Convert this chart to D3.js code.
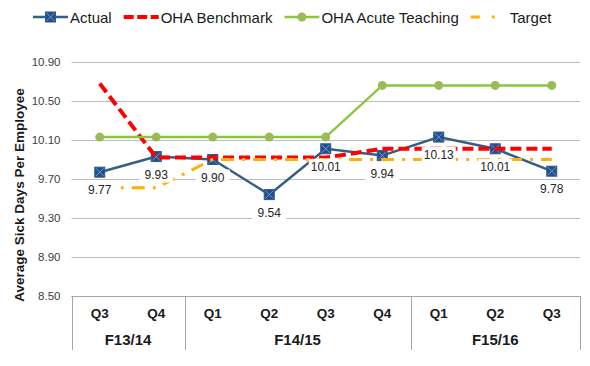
<!DOCTYPE html>
<html>
<head>
<meta charset="utf-8">
<script src="https://cdn.jsdelivr.net/npm/d3@7"></script>
<style>
  body { margin: 0; background: #fff; }
  svg { font-family: "Liberation Sans", Arial, sans-serif; }
</style>
</head>
<body>
<div id="chart"></div>
<script>
// quarters on the x axis, grouped by fiscal year
var quarters = ["Q3", "Q4", "Q1", "Q2", "Q3", "Q4", "Q1", "Q2", "Q3"];
var years = [
    { name: "F13/14", count: 2 },
    { name: "F14/15", count: 4 },
    { name: "F15/16", count: 3 }
];
var actual = [9.77, 9.93, 9.90, 9.54, 10.01, 9.94, 10.13, 10.01, 9.78];
var benchmark = [10.68, 9.92, 9.92, 9.92, 9.92, 10.01, 10.01, 10.01, 10.01];
var acuteTeaching = [10.13, 10.13, 10.13, 10.13, 10.13, 10.66, 10.66, 10.66, 10.66];
var target = [9.61, 9.61, 9.90, 9.90, 9.90, 9.90, 9.90, 9.90, 9.90];
var yTicks = [8.5, 8.9, 9.3, 9.7, 10.1, 10.5, 10.9];

var width = 590, height = 366;
var plotLeft = 71.5, plotRight = 580, plotTop = 62, plotBottom = 296;

var keys = quarters.map(function(q, i) { return i; });

var x = d3.scaleBand()
    .domain(keys)
    .range([plotLeft, plotRight]);
var y = d3.scaleLinear()
    .domain([8.5, 10.9])
    .range([plotBottom, plotTop]);

var svg = d3.select("#chart").append("svg")
    .attr("width", width)
    .attr("height", height);

// gridlines + y tick labels
var yAxis = svg.append("g")
    .attr("transform", "translate(" + plotLeft + ",0)")
    .call(d3.axisLeft(y)
        .tickValues(yTicks)
        .tickSize(-(plotRight - plotLeft))
        .tickPadding(11)
        .tickFormat(d3.format(".2f")));
yAxis.select(".domain").remove();
yAxis.selectAll("line").attr("stroke", "#bdbdbd").attr("stroke-width", 1);
yAxis.selectAll("text")
    .attr("fill", "#404040")
    .style("font-size", "11.5px");

// category box under the plot
var boxBottom = 350;
svg.append("line")
    .attr("x1", plotLeft).attr("x2", plotRight)
    .attr("y1", plotBottom + 0.5).attr("y2", plotBottom + 0.5)
    .attr("stroke", "#a6a6a6");
var start = 0;
var dividers = [plotLeft];
years.forEach(function(g) {
    var first = start, last = start + g.count - 1;
    var cx = (x(first) + x(last) + x.bandwidth()) / 2;
    svg.append("text")
        .attr("x", cx).attr("y", 345)
        .attr("text-anchor", "middle")
        .style("font-size", "15px")
        .style("font-weight", "bold")
        .attr("fill", "#1a1a1a")
        .text(g.name);
    start += g.count;
    dividers.push(start < keys.length ? x(start) : plotRight);
});
svg.selectAll(".divider")
    .data(dividers)
    .enter().append("line")
    .attr("class", "divider")
    .attr("x1", function(d) { return Math.round(d) + 0.5; })
    .attr("x2", function(d) { return Math.round(d) + 0.5; })
    .attr("y1", plotBottom).attr("y2", boxBottom)
    .attr("stroke", "#a6a6a6");

svg.selectAll(".qlabel")
    .data(quarters)
    .enter().append("text")
    .attr("class", "qlabel")
    .attr("x", function(d, i) { return x(i) + x.bandwidth() / 2; })
    .attr("y", 318)
    .attr("text-anchor", "middle")
    .style("font-size", "13.5px")
    .style("font-weight", "bold")
    .attr("fill", "#1a1a1a")
    .text(function(d) { return d; });

// y axis title
svg.append("text")
    .attr("transform", "translate(24,195) rotate(-90)")
    .attr("text-anchor", "middle")
    .style("font-size", "13.5px")
    .style("font-weight", "bold")
    .attr("fill", "#1a1a1a")
    .text("Average Sick Days Per Employee");

var cxOf = function(d, i) { return x(i) + x.bandwidth() / 2; };
var line = d3.line()
    .x(cxOf)
    .y(function(d) { return y(d); });

// Actual
svg.append("path")
    .datum(actual)
    .attr("fill", "none")
    .attr("stroke", "#335e85")
    .attr("stroke-width", 2.5)
    .attr("d", line);

function squareMarker(sel) {
    sel.append("rect")
        .attr("x", -5).attr("y", -5)
        .attr("width", 10).attr("height", 10)
        .attr("fill", "#234f8d")
        .attr("stroke", "#2d5a92")
        .attr("stroke-width", 1);
    sel.append("path")
        .attr("d", "M-4,-4L4,4M-4,4L4,-4")
        .attr("stroke", "#7198c8")
        .attr("stroke-width", 1);
}
svg.selectAll(".actual-pt")
    .data(actual)
    .enter().append("g")
    .attr("class", "actual-pt")
    .attr("transform", function(d, i) { return "translate(" + cxOf(d, i) + "," + y(d) + ")"; })
    .call(squareMarker);

// OHA Benchmark
svg.append("path")
    .datum(benchmark)
    .attr("fill", "none")
    .attr("stroke", "#ff0000")
    .attr("stroke-width", 4)
    .attr("stroke-dasharray", "11,5")
    .attr("d", line);

// OHA Acute Teaching
svg.append("path")
    .datum(acuteTeaching)
    .attr("fill", "none")
    .attr("stroke", "#8cc63f")
    .attr("stroke-width", 2.5)
    .attr("d", line);
svg.selectAll(".acute-pt")
    .data(acuteTeaching)
    .enter().append("circle")
    .attr("class", "acute-pt")
    .attr("cx", cxOf)
    .attr("cy", function(d) { return y(d); })
    .attr("r", 4.5)
    .attr("fill", "#9bbb59");

// Target
svg.append("path")
    .datum(target)
    .attr("fill", "none")
    .attr("stroke", "#ffb000")
    .attr("stroke-width", 3)
    .attr("stroke-dasharray", "13,8,3,8")
    .attr("d", line);

// data labels for Actual
var labels = svg.selectAll(".dlabel")
    .data(actual)
    .enter().append("g")
    .attr("class", "dlabel")
    .attr("transform", function(d, i) { return "translate(" + cxOf(d, i) + "," + (y(d) + 18) + ")"; });
labels.append("rect")
    .attr("x", -17).attr("y", -8)
    .attr("width", 34).attr("height", 16)
    .attr("fill", "#fff");
labels.append("text")
    .attr("text-anchor", "middle")
    .attr("dy", "0.35em")
    .style("font-size", "12px")
    .attr("fill", "#262626")
    .text(function(d) { return d.toFixed(2); });

// legend
var legendItems = [
    { name: "Actual", type: "actual" },
    { name: "OHA Benchmark", type: "bench" },
    { name: "OHA Acute Teaching", type: "acute" },
    { name: "Target", type: "target" }
];
var lx = 33, ly = 17;
legendItems.forEach(function(item) {
    var g = svg.append("g").attr("transform", "translate(" + lx + "," + ly + ")");
    var symW = 35;
    if (item.type === "actual") {
        g.append("line").attr("x1", 0).attr("x2", symW)
            .attr("stroke", "#335e85").attr("stroke-width", 2.5);
        g.append("g").attr("transform", "translate(" + symW / 2 + ",0)").call(squareMarker);
    } else if (item.type === "bench") {
        g.append("line").attr("x1", 0).attr("x2", symW)
            .attr("stroke", "#ff0000").attr("stroke-width", 4)
            .attr("stroke-dasharray", "10,3.5");
    } else if (item.type === "acute") {
        g.append("line").attr("x1", 0).attr("x2", symW)
            .attr("stroke", "#8cc63f").attr("stroke-width", 2.5);
        g.append("circle").attr("cx", symW / 2).attr("r", 4.5).attr("fill", "#9bbb59");
    } else {
        symW = 37;
        g.append("line").attr("x1", 0).attr("x2", symW)
            .attr("stroke", "#ffb000").attr("stroke-width", 3)
            .attr("stroke-dasharray", "9,12,3,20");
    }
    var t = g.append("text")
        .attr("x", symW + 2)
        .attr("y", 5.5)
        .style("font-size", "15px")
        .attr("fill", "#1a1a1a")
        .text(item.name);
    lx += symW + 2 + t.node().getComputedTextLength() + 12;
});
</script>
</body>
</html>
